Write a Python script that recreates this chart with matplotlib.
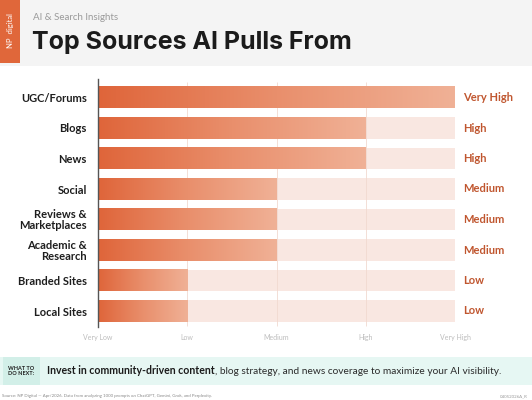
import matplotlib
matplotlib.use("Agg")
import matplotlib.pyplot as plt
from matplotlib.patches import Rectangle
from matplotlib.colors import LinearSegmentedColormap
import numpy as np

# data
sources = ["UGC/Forums", "Blogs", "News", "Social", "Reviews &\nMarketplaces",
           "Academic &\nResearch", "Branded Sites", "Local Sites"]
scores = [4, 3, 3, 2, 2, 2, 1, 1]
levels = ["Very Low", "Low", "Medium", "High", "Very High"]

ORANGE = "#df6a3e"
LABEL_C = "#c0562f"
TRACK = "#f9e7e1"
FONT = "Lato"

fig = plt.figure(figsize=(5.32, 4.0), dpi=100)
fig.patch.set_facecolor("white")

W, H = 532, 400
def fx(px):
    return px / W
def fy(py):
    return 1 - py / H

# header band
fig.patches.append(Rectangle((0, fy(66)), 1, 66 / H, transform=fig.transFigure,
                             facecolor="#f4f4f4", edgecolor="none", zorder=0))
fig.patches.append(Rectangle((0, fy(63)), fx(20), 63 / H, transform=fig.transFigure,
                             facecolor="#e0673a", edgecolor="none", zorder=1))
fig.text(fx(10), fy(31), "NP  digital", rotation=90, color="white", fontsize=5.5,
         ha="center", va="center", family=FONT)
fig.text(fx(33), fy(18), "AI & Search Insights", fontsize=7, color="#9a9a9a",
         ha="left", va="center", family=FONT)
fig.text(fx(32), fy(42), "Top Sources AI Pulls From", fontsize=18, color="#1b1b1b",
         fontweight="bold", ha="left", va="center", family="Inter")

# chart axes
x0, x1 = 98, 455
top, bot = 79, 327
ax = fig.add_axes([fx(x0), fy(bot), (x1 - x0) / W, (bot - top) / H])
step = 30.5
ax.set_facecolor("none")
for s in ["top", "right", "bottom"]:
    ax.spines[s].set_visible(False)
ax.spines["left"].set_color("#555555")
ax.spines["left"].set_linewidth(1.0)
ax.spines["left"].set_zorder(6)

cmap = LinearSegmentedColormap.from_list("grad", ["#df653a", "#e98f6c", "#f0b196"])
grad = np.linspace(0, 1, 256).reshape(1, -1)
bh = 0.72
y = np.arange(len(sources))

ax.barh(y, [4] * len(sources), height=bh, color=TRACK, zorder=1)
for t in [1, 2, 3]:
    ax.vlines(t, -0.5, len(sources) - 0.5, color="#f1d9d0", lw=0.6, zorder=2)
for yi, v in zip(y, scores):
    ax.imshow(grad, cmap=cmap, extent=[0, v, yi + bh / 2, yi - bh / 2],
              aspect="auto", zorder=3, interpolation="bilinear")
ax.set_xlim(0, 4)
ax.set_ylim((bot - 97.5) / step, -(97.5 - top) / step)

ax.set_yticks(y)
ax.set_yticklabels(sources, fontsize=8, fontweight="bold", color="#1e1e1e",
                   family=FONT, linespacing=0.95)
ax.tick_params(axis="y", length=0, pad=8)
ax.set_xticks(range(5))
ax.set_xticklabels(levels, fontsize=5, color="#bdbdbd", family=FONT)
ax.tick_params(axis="x", length=0, pad=5)

for yi, v in zip(y, scores):
    ax.text(4.09, yi, levels[v], fontsize=8, fontweight="bold", color=LABEL_C,
            ha="left", va="center", family=FONT)

# action band
fig.patches.append(Rectangle((0, fy(385)), 1, 28 / H, transform=fig.transFigure,
                             facecolor="#e6f7f3", edgecolor="none", zorder=0))
fig.patches.append(Rectangle((fx(3), fy(385)), fx(37), 28 / H, transform=fig.transFigure,
                             facecolor="#d2efe8", edgecolor="none", zorder=1))
fig.text(fx(21), fy(371), "WHAT TO\nDO NEXT:", fontsize=4, fontweight="bold",
         color="#1e1e1e", ha="center", va="center", family=FONT, linespacing=0.9)
t1 = fig.text(fx(47), fy(371), "Invest in community-driven content", fontsize=7.6,
              fontweight="bold", color="#1b1b1b", ha="left", va="center", family=FONT)
r = fig.canvas.get_renderer()
bb = t1.get_window_extent(renderer=r)
fig.text(bb.x1 / fig.bbox.width, fy(371),
         ", blog strategy, and news coverage to maximize your AI visibility.",
         fontsize=7.3, color="#2a2a2a", ha="left", va="center", family=FONT)

fig.text(fx(2), fy(396), "Source: NP Digital \u2014 Apr/2026. Data from analyzing 1000 prompts on ChatGPT, Gemini, Grok, and Perplexity.",
         fontsize=3.2, color="#8a8a8a", ha="left", va="center", family=FONT)
fig.text(fx(528), fy(396), "04052026A_R", fontsize=3.2, color="#9a9a9a",
         ha="right", va="center", family=FONT)

fig.savefig("out.png", dpi=100)
